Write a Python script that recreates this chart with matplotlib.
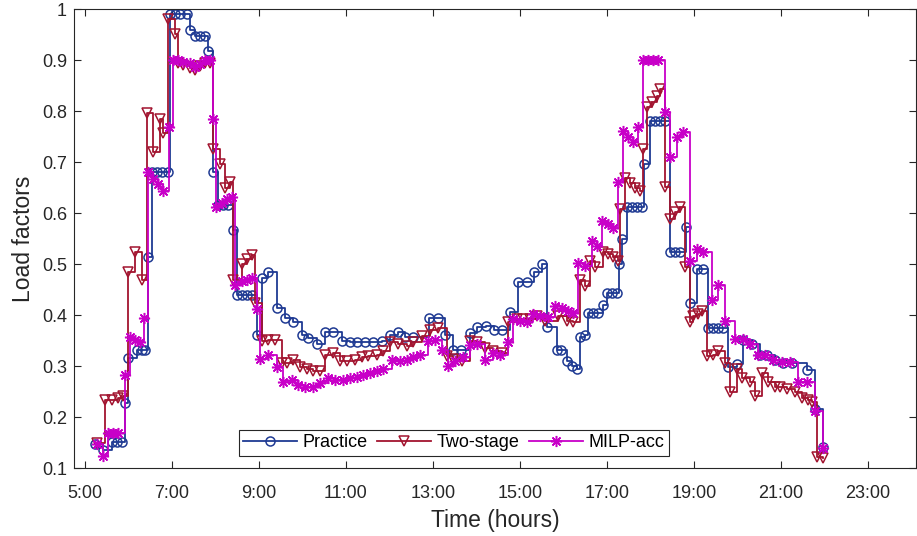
import matplotlib
matplotlib.use("Agg")
import matplotlib.pyplot as plt
from matplotlib.ticker import FuncFormatter

plt.rcParams["font.family"] = ["Liberation Sans", "DejaVu Sans"]

# departure times (hours) and load factors
practice_t = [5.23, 5.41, 5.62, 5.74, 5.85, 5.92, 5.99, 6.20, 6.31, 6.38,
              6.45, 6.54, 6.66, 6.77, 6.91, 6.95, 7.07, 7.18, 7.34, 7.41,
              7.53, 7.64, 7.76, 7.83, 7.94, 8.06, 8.17, 8.29, 8.40, 8.49,
              8.61, 8.72, 8.84, 8.95, 9.07, 9.21, 9.41, 9.60, 9.78, 9.99,
              10.13, 10.33, 10.52, 10.70, 10.91, 11.09, 11.25, 11.44, 11.62, 11.83,
              12.01, 12.20, 12.36, 12.54, 12.91, 13.11, 13.28, 13.46, 13.64, 13.85,
              14.01, 14.22, 14.40, 14.59, 14.77, 14.95, 15.16, 15.32, 15.51, 15.62,
              15.85, 15.94, 16.08, 16.20, 16.31, 16.38, 16.49, 16.56, 16.68, 16.79,
              16.91, 17.00, 17.11, 17.23, 17.28, 17.34, 17.46, 17.57, 17.69, 17.80,
              17.85, 17.99, 18.10, 18.22, 18.33, 18.45, 18.56, 18.68, 18.82, 18.91,
              19.07, 19.21, 19.32, 19.44, 19.55, 19.67, 19.78, 19.99, 20.13, 20.33,
              20.52, 20.68, 20.86, 21.05, 21.25, 21.60, 21.78, 21.97]
practice_v = [0.147, 0.137, 0.151, 0.151, 0.151, 0.229, 0.317, 0.333, 0.333, 0.333,
              0.515, 0.68, 0.68, 0.68, 0.68, 0.99, 0.99, 0.99, 0.99, 0.96,
              0.947, 0.947, 0.947, 0.918, 0.68, 0.617, 0.617, 0.617, 0.568, 0.44,
              0.44, 0.44, 0.44, 0.362, 0.474, 0.484, 0.415, 0.395, 0.386, 0.362,
              0.356, 0.343, 0.368, 0.368, 0.349, 0.347, 0.347, 0.347, 0.347, 0.349,
              0.362, 0.368, 0.358, 0.358, 0.394, 0.394, 0.362, 0.333, 0.333, 0.366,
              0.378, 0.38, 0.372, 0.372, 0.407, 0.466, 0.466, 0.484, 0.5, 0.378,
              0.333, 0.333, 0.31, 0.30, 0.294, 0.358, 0.362, 0.405, 0.405, 0.405,
              0.42, 0.444, 0.444, 0.444, 0.5, 0.55, 0.613, 0.613, 0.613, 0.613,
              0.697, 0.78, 0.78, 0.78, 0.78, 0.525, 0.525, 0.525, 0.574, 0.425,
              0.49, 0.49, 0.376, 0.376, 0.376, 0.376, 0.298, 0.304, 0.352, 0.343,
              0.323, 0.323, 0.313, 0.307, 0.307, 0.292, 0.216, 0.143]

twostage_t = [5.28, 5.46, 5.62, 5.76, 5.87, 5.99, 6.15, 6.31, 6.43, 6.56,
              6.72, 6.79, 6.91, 7.07, 7.14, 7.25, 7.41, 7.53, 7.64, 7.76,
              7.87, 7.94, 8.10, 8.22, 8.33, 8.40, 8.61, 8.72, 8.84, 8.91,
              9.07, 9.21, 9.37, 9.53, 9.64, 9.78, 9.94, 10.10, 10.24, 10.40,
              10.52, 10.70, 10.86, 11.02, 11.21, 11.37, 11.51, 11.71, 11.85, 12.01,
              12.20, 12.40, 12.54, 12.75, 12.93, 13.11, 13.32, 13.46, 13.67, 13.85,
              14.01, 14.20, 14.38, 14.59, 14.72, 14.93, 15.07, 15.23, 15.39, 15.57,
              15.87, 16.08, 16.22, 16.38, 16.49, 16.61, 16.72, 16.91, 17.02, 17.14,
              17.25, 17.30, 17.41, 17.53, 17.64, 17.76, 17.83, 17.92, 18.03, 18.15,
              18.22, 18.33, 18.45, 18.56, 18.68, 18.79, 18.91, 18.98, 19.09, 19.18,
              19.30, 19.44, 19.55, 19.71, 19.83, 19.99, 20.10, 20.29, 20.40, 20.56,
              20.70, 20.86, 20.98, 21.14, 21.32, 21.48, 21.62, 21.71, 21.83, 21.97]
twostage_v = [0.15, 0.235, 0.235, 0.239, 0.241, 0.484, 0.525, 0.47, 0.797, 0.72,
              0.784, 0.758, 0.98, 0.951, 0.895, 0.89, 0.885, 0.88, 0.888, 0.895,
              0.895, 0.725, 0.696, 0.65, 0.662, 0.47, 0.5, 0.51, 0.518, 0.424,
              0.35, 0.352, 0.352, 0.307, 0.307, 0.313, 0.298, 0.294, 0.29, 0.29,
              0.323, 0.327, 0.31, 0.31, 0.313, 0.318, 0.32, 0.323, 0.33, 0.347,
              0.343, 0.34, 0.347, 0.36, 0.372, 0.376, 0.32, 0.314, 0.31, 0.35,
              0.347, 0.337, 0.33, 0.327, 0.386, 0.392, 0.392, 0.392, 0.398, 0.388,
              0.398, 0.388, 0.386, 0.47, 0.457, 0.506, 0.494, 0.525, 0.52, 0.514,
              0.506, 0.608, 0.67, 0.66, 0.65, 0.643, 0.725, 0.808, 0.818, 0.83,
              0.843, 0.651, 0.588, 0.602, 0.612, 0.494, 0.386, 0.398, 0.402, 0.408,
              0.32, 0.323, 0.33, 0.307, 0.249, 0.294, 0.278, 0.27, 0.241, 0.288,
              0.27, 0.26, 0.259, 0.255, 0.249, 0.239, 0.235, 0.231, 0.123, 0.121]

milp_t = [5.28, 5.41, 5.53, 5.64, 5.76, 5.92, 6.03, 6.15, 6.26, 6.36,
          6.45, 6.56, 6.68, 6.79, 6.93, 7.02, 7.14, 7.25, 7.41, 7.53,
          7.64, 7.76, 7.87, 7.94, 8.01, 8.15, 8.26, 8.38, 8.45, 8.61,
          8.72, 8.84, 8.95, 9.02, 9.21, 9.41, 9.55, 9.76, 9.90, 10.06,
          10.24, 10.40, 10.59, 10.75, 10.93, 11.09, 11.25, 11.39, 11.55, 11.71,
          11.85, 12.06, 12.24, 12.40, 12.54, 12.70, 12.89, 13.05, 13.21, 13.34,
          13.51, 13.69, 13.85, 14.01, 14.20, 14.38, 14.54, 14.72, 14.84, 15.00,
          15.16, 15.30, 15.46, 15.64, 15.80, 15.97, 16.10, 16.22, 16.33, 16.49,
          16.66, 16.77, 16.89, 17.02, 17.14, 17.25, 17.37, 17.48, 17.60, 17.71,
          17.83, 17.94, 18.06, 18.17, 18.33, 18.45, 18.61, 18.75, 18.91, 19.07,
          19.21, 19.41, 19.55, 19.71, 19.94, 20.13, 20.29, 20.47, 20.63, 20.82,
          21.02, 21.21, 21.39, 21.60, 21.78, 21.97]
milp_v = [0.147, 0.124, 0.17, 0.17, 0.17, 0.284, 0.357, 0.352, 0.347, 0.394,
          0.68, 0.667, 0.657, 0.643, 0.77, 0.9, 0.9, 0.897, 0.895, 0.886,
          0.892, 0.9, 0.9, 0.784, 0.612, 0.62, 0.627, 0.631, 0.46, 0.467,
          0.47, 0.474, 0.412, 0.315, 0.323, 0.298, 0.27, 0.274, 0.264, 0.259,
          0.26, 0.268, 0.278, 0.274, 0.274, 0.278, 0.28, 0.284, 0.288, 0.29,
          0.294, 0.313, 0.31, 0.313, 0.318, 0.323, 0.35, 0.352, 0.333, 0.3,
          0.31, 0.318, 0.342, 0.343, 0.313, 0.327, 0.323, 0.347, 0.392, 0.388,
          0.386, 0.402, 0.398, 0.396, 0.418, 0.415, 0.408, 0.405, 0.503, 0.496,
          0.545, 0.535, 0.585, 0.578, 0.572, 0.662, 0.761, 0.749, 0.739, 0.77,
          0.9, 0.9, 0.9, 0.9, 0.798, 0.71, 0.749, 0.759, 0.506, 0.53,
          0.525, 0.431, 0.46, 0.388, 0.353, 0.353, 0.343, 0.323, 0.323, 0.313,
          0.308, 0.308, 0.27, 0.27, 0.212, 0.141]

xticks = [5, 7, 9, 11, 13, 15, 17, 19, 21, 23]

BLUE = "#1f3a93"
RED = "#a2142f"
MAG = "#c800c8"
AXC = "#262626"

fig = plt.figure(figsize=(9.17, 5.36), dpi=100)
ax = fig.add_axes([0.0807, 0.126, 0.918, 0.857])

ax.step(practice_t, practice_v, where="post", color=BLUE, lw=1.3,
        marker="o", ms=6.5, mfc="none", mew=1.1, label="Practice")
ax.step(twostage_t, twostage_v, where="post", color=RED, lw=1.3,
        marker="v", ms=7.5, mfc="none", mew=1.1, label="Two-stage")
ax.step(milp_t, milp_v, where="post", color=MAG, lw=1.3,
        marker=(8, 2, 0), ms=8, mew=1.1, label="MILP-acc")

ax.set_xlim(4.75, 24.1)
ax.set_ylim(0.1, 1.0)
ax.set_xticks(xticks)
ax.xaxis.set_major_formatter(FuncFormatter(lambda v, p: f"{int(v)}:00"))
ax.set_yticks([0.1, 0.2, 0.3, 0.4, 0.5, 0.6, 0.7, 0.8, 0.9, 1.0])
ax.yaxis.set_major_formatter(FuncFormatter(lambda v, p: f"{v:g}"))
ax.tick_params(direction="in", top=True, right=True, length=5, width=0.8,
               labelsize=13, colors=AXC)
ax.tick_params(axis="x", pad=12)
ax.tick_params(axis="y", pad=5)
for s in ax.spines.values():
    s.set_color(AXC)
    s.set_linewidth(0.8)

ax.set_xlabel("Time (hours)", fontsize=16.5, color=AXC, labelpad=5)
ax.set_ylabel("Load factors", fontsize=16.5, color=AXC)
ax.yaxis.set_label_coords(-0.046, 0.5)

leg = ax.legend(loc="lower center", bbox_to_anchor=(0.451, 0.028), ncol=3,
                fontsize=13, frameon=True, fancybox=False, framealpha=1,
                edgecolor=AXC, handlelength=3.0, columnspacing=0.5,
                handletextpad=0.3, borderpad=0.25, borderaxespad=0)
leg.get_frame().set_linewidth(0.8)

fig.savefig("out.png", dpi=100)
